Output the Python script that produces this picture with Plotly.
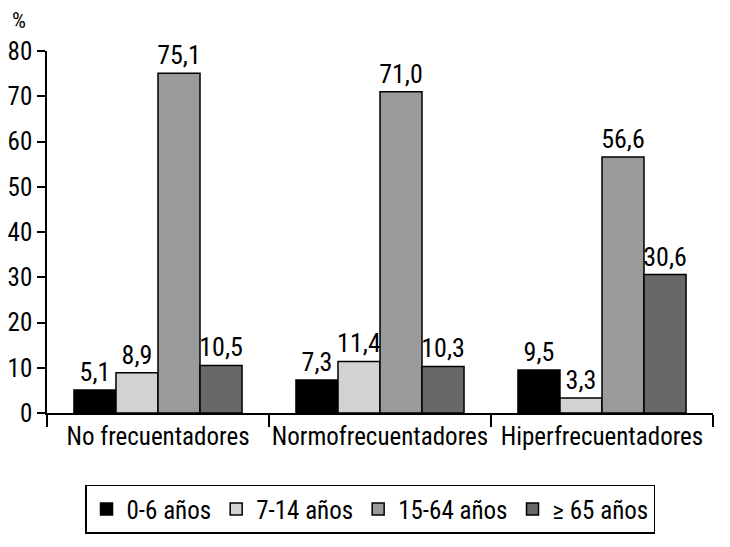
import plotly.graph_objects as go

categories = ["No frecuentadores", "Normofrecuentadores", "Hiperfrecuentadores"]
series_names = ["0-6 años", "7-14 años", "15-64 años", "≥ 65 años"]
values_0_6 = [5.1, 7.3, 9.5]
values_7_14 = [8.9, 11.4, 3.3]
values_15_64 = [75.1, 71.0, 56.6]
values_65 = [10.5, 10.3, 30.6]
colors = ["#000000", "#d2d2d2", "#9a9a9a", "#686868"]
y_ticks = [0, 10, 20, 30, 40, 50, 60, 70, 80]

FONT = "Roboto Condensed, Liberation Sans Narrow, Roboto, sans-serif"
FS = 26

fig = go.Figure()
for name, vals, col in zip(series_names, [values_0_6, values_7_14, values_15_64, values_65], colors):
    fig.add_trace(go.Bar(
        x=categories, y=vals, name=name,
        marker=dict(color=col, line=dict(color="black", width=1.5)),
        text=[f"{v:.1f}".replace(".", ",") for v in vals],
        textposition="outside", cliponaxis=False, constraintext="none",
        textfont=dict(size=FS, color="black", family=FONT),
    ))

fig.update_layout(
    width=730, height=547,
    margin=dict(l=39, r=25, t=43, b=142, autoexpand=False),
    paper_bgcolor="white", plot_bgcolor="white",
    barmode="group", bargap=0.243, bargroupgap=0,
    font=dict(family=FONT, size=FS, color="black"),
    showlegend=True,
    legend=dict(
        orientation="h", x=0.485, xanchor="center", y=-0.198, yanchor="top",
        bordercolor="black", borderwidth=1.5,
        font=dict(size=25, family=FONT),
        itemwidth=30, tracegroupgap=0,
        traceorder="normal",
    ),
    annotations=[dict(text="%", x=0, xref="paper", xanchor="center", xshift=-28,
                      y=1, yref="paper", yanchor="bottom", yshift=16,
                      showarrow=False, font=dict(size=22, family=FONT))],
)
fig.update_xaxes(
    showline=True, linecolor="black", linewidth=1.5,
    ticks="outside", tickson="boundaries", ticklen=12, tickwidth=1.5, tickcolor="black",
    tickfont=dict(size=25, family=FONT), showgrid=False,
    tickangle=0, automargin=False,
)
fig.update_yaxes(
    range=[0, 80], tickvals=y_ticks,
    showline=True, linecolor="black", linewidth=1.5,
    ticks="outside", ticklen=8, tickwidth=1.5, tickcolor="black",
    tickfont=dict(size=25, family=FONT), showgrid=False, zeroline=False,
    automargin=False,
)

fig.write_html("out.html")
